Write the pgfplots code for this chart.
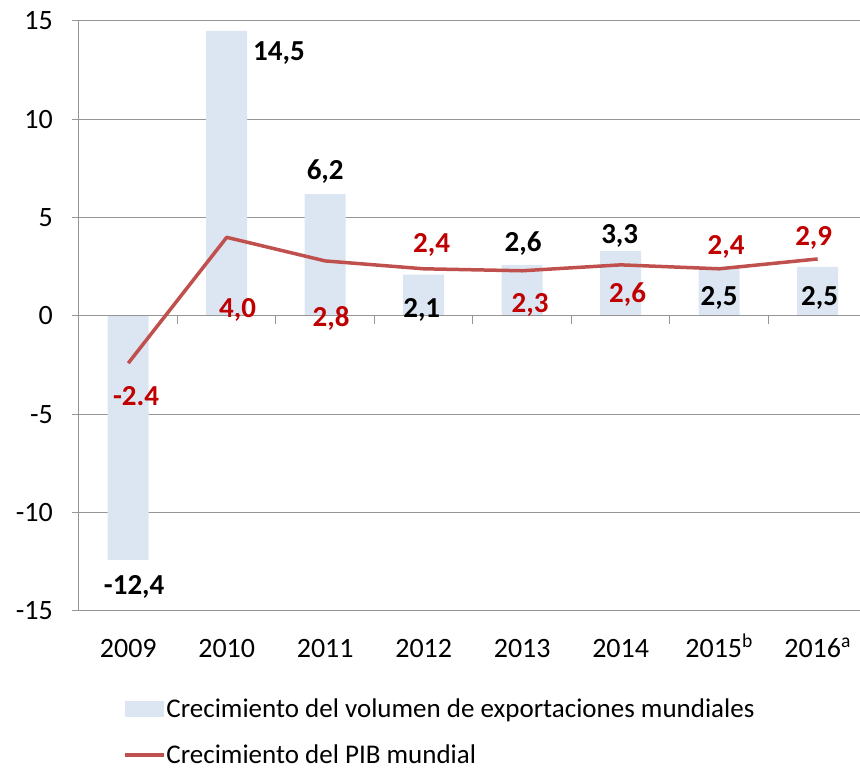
\documentclass[border=0pt]{standalone}
\usepackage{pgfplots}
\pgfplotsset{compat=1.18}
\usepackage{fontspec}
\setmainfont{Carlito}
\definecolor{barcol}{RGB}{220,230,242}
\definecolor{linecol}{RGB}{192,80,77}
\definecolor{labred}{RGB}{192,0,0}
\definecolor{axcol}{RGB}{150,150,150}
\begin{document}
\begin{tikzpicture}
\useasboundingbox (-79pt,-160pt) rectangle (781pt,611pt);
\begin{axis}[
  scale only axis, width=781pt, height=590pt,
  xmin=-0.5, xmax=7.43, ymin=-15, ymax=15,
  axis x line*=bottom, axis y line*=left,
  axis line style={draw=axcol, line width=1pt},
  ytick={-15,-10,...,15},
  yticklabels={-15,-10,-5,0,5,10,15},
  xtick={0,...,7},
  xticklabels={2009,2010,2011,2012,2013,2014,2015\textsuperscript{b},2016\textsuperscript{a}},
  x tick style={draw=none},
  y tick style={draw=axcol, line width=1pt},
  tick align=outside, major tick length=7pt,
  ymajorgrids, grid style={draw=axcol, line width=1pt},
  font=\fontsize{28}{33}\selectfont,
  yticklabel style={anchor=east, inner sep=0pt, xshift=-19pt},
  xticklabel style={anchor=base, inner sep=0pt, yshift=-39pt},
  clip=false,
  legend style={at={(axis description cs:0.056,-0.148)}, anchor=north west, draw=none, fill=none,
    row sep=26pt, column sep=1pt, inner sep=0pt, nodes={inner sep=0pt, anchor=west},
    font=\fontsize{27}{32}\selectfont},
  legend cell align=left,
]
\addplot[ybar, bar width=41pt, fill=barcol, draw=none,
  legend image code/.code={\fill[barcol] (0pt,-8pt) rectangle (39pt,8pt);}]
  coordinates {(0,-12.4) (1,14.5) (2,6.2) (3,2.1) (4,2.6) (5,3.3) (6,2.5) (7,2.5)};
\addlegendentry{Crecimiento del volumen de exportaciones mundiales}
\draw[axcol, line width=1pt] (axis cs:-0.5,0) -- (axis cs:7.43,0);
\pgfplotsinvokeforeach{0.5,1.5,2.5,3.5,4.5,5.5,6.5}{
  \draw[axcol, line width=1pt] (axis cs:#1,0) -- ([yshift=-8pt]axis cs:#1,0);
}
\addplot[linecol, line width=3.5pt, line join=round, mark=none,
  legend image code/.code={\draw[linecol, line width=3.5pt] (0pt,0pt) -- (39pt,0pt);}]
  coordinates {(0,-2.4) (1,4.0) (2,2.8) (3,2.4) (4,2.3) (5,2.6) (6,2.4) (7,2.9)};
\addlegendentry{Crecimiento del PIB mundial}
% bar labels
\begin{scope}[every node/.style={font=\fontsize{29}{34}\selectfont\bfseries, inner sep=0pt}]
\node at (axis cs:0.06,-13.8) {-12,4};
\node at (axis cs:1.53,13.37) {14,5};
\node at (axis cs:2.0,7.32) {6,2};
\node at (axis cs:2.98,0.3) {2,1};
\node at (axis cs:4.01,3.7) {2,6};
\node at (axis cs:4.99,4.07) {3,3};
\node at (axis cs:6.0,0.9) {2,5};
\node at (axis cs:7.02,0.9) {2,5};
% line labels
\node[text=labred] at (axis cs:0.08,-4.07) {-2.4};
\node[text=labred] at (axis cs:1.11,0.3) {4,0};
\node[text=labred] at (axis cs:2.06,-0.1) {2,8};
\node[text=labred] at (axis cs:3.08,3.6) {2,4};
\node[text=labred] at (axis cs:4.08,0.55) {2,3};
\node[text=labred] at (axis cs:5.07,1.07) {2,6};
\node[text=labred] at (axis cs:6.07,3.5) {2,4};
\node[text=labred] at (axis cs:6.96,3.97) {2,9};
\end{scope}
\end{axis}
\end{tikzpicture}
\end{document}
